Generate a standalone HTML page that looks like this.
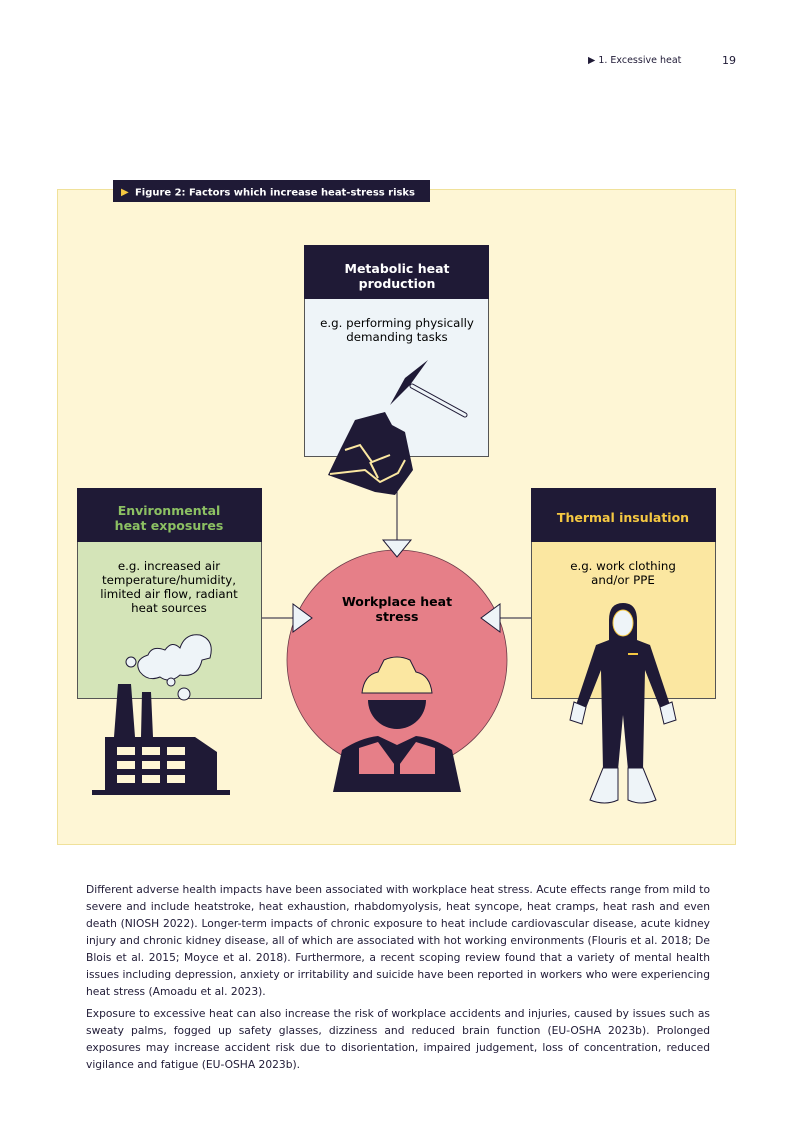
<!DOCTYPE html>
<html><head><meta charset="utf-8"><style>
body{margin:0;background:#fff;}
.page{position:relative;width:793px;height:1122px;overflow:hidden;font-family:"DejaVu Sans","Liberation Sans",sans-serif;color:#1f1a36;}
.p{position:absolute;left:86px;width:624px;font-size:10.7px;line-height:17px;text-align:justify;}
</style></head><body><div class="page">
<div style="position:absolute;left:588px;top:55px;font-size:9.5px;">▶ 1. Excessive heat</div>
<div style="position:absolute;left:722px;top:54px;font-size:11px;">19</div>
<svg width="793" height="1122" style="position:absolute;left:0;top:0" font-family="DejaVu Sans, Liberation Sans, sans-serif">
<rect x="57.5" y="189.5" width="678" height="655" fill="#fef6d5" stroke="#f0e19a"/>
<rect x="113" y="180" width="317" height="22" fill="#1f1a36"/>
<text x="121" y="195" font-size="10" fill="#f5c842">▶</text>
<text x="135" y="195.5" font-size="10.1" font-weight="bold" fill="#fff" textLength="280" lengthAdjust="spacingAndGlyphs">Figure 2: Factors which increase heat-stress risks</text>
<line x1="397" y1="456" x2="397" y2="540" stroke="#1f1a36"/>
<line x1="261" y1="618" x2="295" y2="618" stroke="#1f1a36"/>
<line x1="531" y1="618" x2="498" y2="618" stroke="#1f1a36"/>
<circle cx="397" cy="660" r="110" fill="#e67f88" stroke="#6a3a48" stroke-width="0.8"/>
<polygon points="383,540 411,540 397,557" fill="#eef4f8" stroke="#1f1a36"/>
<polygon points="293,604 293,632 312,618" fill="#eef4f8" stroke="#1f1a36"/>
<polygon points="500,604 500,632 481,618" fill="#eef4f8" stroke="#1f1a36"/>
<text x="397" y="606" font-size="12.5" font-weight="bold" text-anchor="middle">Workplace heat</text>
<text x="397" y="621" font-size="12.5" font-weight="bold" text-anchor="middle">stress</text>
<path d="M362,693 Q364,675 378,672 L384,660 Q397,654 410,660 L416,672 Q430,675 432,693 Z" fill="#fbe7a1" stroke="#1f1a36"/>
<path d="M368,700 L426,700 A29,29 0 0 1 368,700 Z" fill="#1f1a36"/>
<path d="M333,792 L342,750 Q360,738 378,736 L397,745 L416,736 Q434,738 452,750 L461,792 Z" fill="#1f1a36"/>
<path d="M359,748 L378,742 L397,768 L416,742 L435,748 L435,778 L359,778 Z" fill="#e67f88"/>
<rect x="359" y="774" width="76" height="6" fill="#1f1a36"/><rect x="394" y="760" width="6" height="32" fill="#1f1a36"/>
<rect x="304.5" y="245.5" width="184" height="211" fill="#eef4f8" stroke="#555"/>
<rect x="304" y="245" width="185" height="54" fill="#1f1a36"/>
<text x="397" y="273" font-size="12.5" font-weight="bold" fill="#fff" text-anchor="middle">Metabolic heat</text>
<text x="397" y="288" font-size="12.5" font-weight="bold" fill="#fff" text-anchor="middle">production</text>
<text x="397" y="327" font-size="11.8" text-anchor="middle">e.g. performing physically</text>
<text x="397" y="341" font-size="11.8" text-anchor="middle">demanding tasks</text>
<line x1="412" y1="386" x2="465" y2="415" stroke="#1f1a36" stroke-width="5" stroke-linecap="round"/>
<line x1="412" y1="386" x2="465" y2="415" stroke="#eef4f8" stroke-width="3" stroke-linecap="round"/>
<path d="M390,405 L405,378 L428,360 L410,385 Z" fill="#1f1a36"/>
<path d="M355,420 L385,412 L392,425 L405,432 L413,470 L395,495 L375,492 L328,475 L340,450 Z" fill="#1f1a36"/>
<path d="M345,450 L360,445 L372,462 L390,455 M330,474 L365,470 L380,482 L398,473 L405,460 M370,462 L378,478" stroke="#fbe7a1" stroke-width="2" fill="none"/>
<rect x="77.5" y="488.5" width="184" height="210" fill="#d4e4b8" stroke="#555"/>
<rect x="77" y="488" width="185" height="54" fill="#1f1a36"/>
<text x="169" y="515" font-size="12.5" font-weight="bold" fill="#8cc063" text-anchor="middle">Environmental</text>
<text x="169" y="530" font-size="12.5" font-weight="bold" fill="#8cc063" text-anchor="middle">heat exposures</text>
<text x="169" y="570" font-size="11.8" text-anchor="middle">e.g. increased air</text>
<text x="169" y="584" font-size="11.8" text-anchor="middle">temperature/humidity,</text>
<text x="169" y="598" font-size="11.8" text-anchor="middle">limited air flow, radiant</text>
<text x="169" y="612" font-size="11.8" text-anchor="middle">heat sources</text>
<path d="M140,672 Q133,660 148,655 Q152,645 165,650 Q172,640 180,648 Q185,633 200,635 Q215,640 210,658 L202,660 Q198,678 180,675 Q170,684 160,677 Q148,682 140,672Z" fill="#eef4f8" stroke="#1f1a36"/>
<circle cx="131" cy="662" r="5" fill="#eef4f8" stroke="#1f1a36"/>
<circle cx="171" cy="682" r="4" fill="#eef4f8" stroke="#1f1a36"/>
<circle cx="184" cy="694" r="6" fill="#eef4f8" stroke="#1f1a36"/>
<path d="M118,684 L131,684 L135,737 L141,737 L142,692 L151,692 L153,737 L195,737 L217,752 L217,790 L230,790 L230,795 L92,795 L92,790 L105,790 L105,737 L114,737 Z" fill="#1f1a36"/>
<g fill="#fef6d5"><rect x="117" y="747" width="18" height="8"/><rect x="142" y="747" width="18" height="8"/><rect x="167" y="747" width="18" height="8"/><rect x="117" y="761" width="18" height="8"/><rect x="142" y="761" width="18" height="8"/><rect x="167" y="761" width="18" height="8"/><rect x="117" y="775" width="18" height="8"/><rect x="142" y="775" width="18" height="8"/><rect x="167" y="775" width="18" height="8"/></g>
<rect x="531.5" y="488.5" width="184" height="210" fill="#fbe7a1" stroke="#555"/>
<rect x="531" y="488" width="185" height="54" fill="#1f1a36"/>
<text x="623" y="522" font-size="12.5" font-weight="bold" fill="#f5c842" text-anchor="middle">Thermal insulation</text>
<text x="623" y="570" font-size="11.8" text-anchor="middle">e.g. work clothing</text>
<text x="623" y="584" font-size="11.8" text-anchor="middle">and/or PPE</text>
<path d="M609,640 L609,620 Q609,603 623,603 Q637,603 637,620 L637,640 L650,645 L670,705 L660,708 L645,670 L643,770 L628,770 L623,715 L618,770 L603,770 L601,670 L586,708 L576,705 L596,645 Z" fill="#1f1a36"/>
<ellipse cx="623" cy="623" rx="10" ry="13" fill="#eef4f8" stroke="#f5c842"/>
<rect x="628" y="653" width="10" height="2" fill="#f5c842"/>
<path d="M574,702 L586,707 L582,724 L570,720 Z" fill="#eef4f8" stroke="#1f1a36"/>
<path d="M660,707 L672,702 L676,720 L664,724 Z" fill="#eef4f8" stroke="#1f1a36"/>
<path d="M603,768 L618,768 L618,800 Q605,806 590,800 Z" fill="#eef4f8" stroke="#1f1a36"/>
<path d="M628,768 L643,768 L656,800 Q641,806 628,800 Z" fill="#eef4f8" stroke="#1f1a36"/>
</svg>
<div class="p" style="top:881px;">Different adverse health impacts have been associated with workplace heat stress. Acute effects range from mild to severe and include heatstroke, heat exhaustion, rhabdomyolysis, heat syncope, heat cramps, heat rash and even death (NIOSH 2022). Longer-term impacts of chronic exposure to heat include cardiovascular disease, acute kidney injury and chronic kidney disease, all of which are associated with hot working environments (Flouris et al. 2018; De Blois et al. 2015; Moyce et al. 2018). Furthermore, a recent scoping review found that a variety of mental health issues including depression, anxiety or irritability and suicide have been reported in workers who were experiencing heat stress (Amoadu et al. 2023).</div>
<div class="p" style="top:1005px;">Exposure to excessive heat can also increase the risk of workplace accidents and injuries, caused by issues such as sweaty palms, fogged up safety glasses, dizziness and reduced brain function (EU-OSHA 2023b). Prolonged exposures may increase accident risk due to disorientation, impaired judgement, loss of concentration, reduced vigilance and fatigue (EU-OSHA 2023b).</div>
</div></body></html>
